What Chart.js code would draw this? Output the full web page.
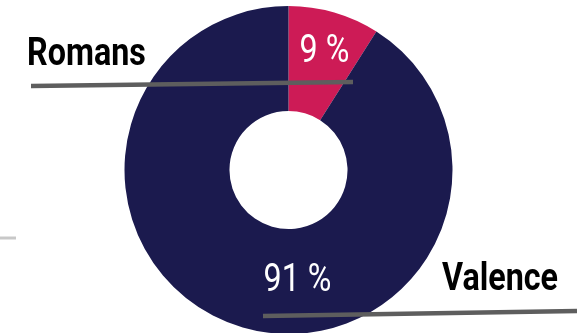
<!DOCTYPE html>
<html>
<head>
<meta charset="utf-8">
<script src="https://cdn.jsdelivr.net/npm/chart.js@4/dist/chart.umd.min.js"></script>
<style>
    html, body { margin: 0; padding: 0; background: #fff; overflow: hidden; }
    #wrap { position: relative; width: 577px; height: 340px; }
</style>
</head>
<body>
<div id="wrap"><canvas id="repartition"></canvas></div>
<script>
const villes = ['Romans', 'Valence'];
const parts = [9, 91];
const couleurs = ['#cd1b56', '#1b1a4e'];

// libellés des villes avec leur trait
const repères = [
    { texte: villes[0], x: 27, y: 65, trait: [31, 86, 353, 82] },
    { texte: villes[1], x: 442, y: 290, trait: [263, 316, 577, 311] },
];
// décalage des pourcentages par rapport au centre
const décalages = [[36, -108], [9, 121]];

function texteEtroit(ctx, texte, x, y, align) {
    ctx.save();
    ctx.translate(x, y);
    ctx.scale(0.85, 1);
    ctx.textAlign = align;
    ctx.fillText(texte, 0, 0);
    ctx.restore();
}

const etiquettes = {
    id: 'etiquettes',
    afterDatasetsDraw(chart) {
        const ctx = chart.ctx;
        const arcs = chart.getDatasetMeta(0).data;
        const cx = arcs[0].x;
        const cy = arcs[0].y;

        ctx.save();
        ctx.textBaseline = 'alphabetic';

        // petit trait gris à gauche
        ctx.strokeStyle = '#c8c8c8';
        ctx.lineWidth = 3;
        ctx.beginPath();
        ctx.moveTo(0, 238);
        ctx.lineTo(16, 238);
        ctx.stroke();

        ctx.strokeStyle = '#5e5e5e';
        ctx.lineWidth = 4.5;
        repères.forEach(r => {
            ctx.beginPath();
            ctx.moveTo(r.trait[0], r.trait[1]);
            ctx.lineTo(r.trait[2], r.trait[3]);
            ctx.stroke();
        });

        ctx.fillStyle = '#000';
        ctx.font = 'bold 38px Roboto';
        repères.forEach(r => texteEtroit(ctx, r.texte, r.x, r.y, 'left'));

        ctx.fillStyle = '#fff';
        ctx.font = '38px Roboto';
        parts.forEach((v, i) => {
            texteEtroit(ctx, v + ' %', cx + décalages[i][0], cy + décalages[i][1], 'center');
        });
        ctx.restore();
    }
};

new Chart(document.getElementById('repartition'), {
    type: 'doughnut',
    data: {
        labels: villes,
        datasets: [{
            data: parts,
            backgroundColor: couleurs,
            borderWidth: 0,
        }]
    },
    options: {
        responsive: true,
        maintainAspectRatio: false,
        animation: false,
        cutout: '36%',
        layout: { padding: { top: 6, bottom: 6 } },
        plugins: {
            legend: { display: false },
            tooltip: { enabled: false },
        }
    },
    plugins: [etiquettes]
});
</script>
</body>
</html>
